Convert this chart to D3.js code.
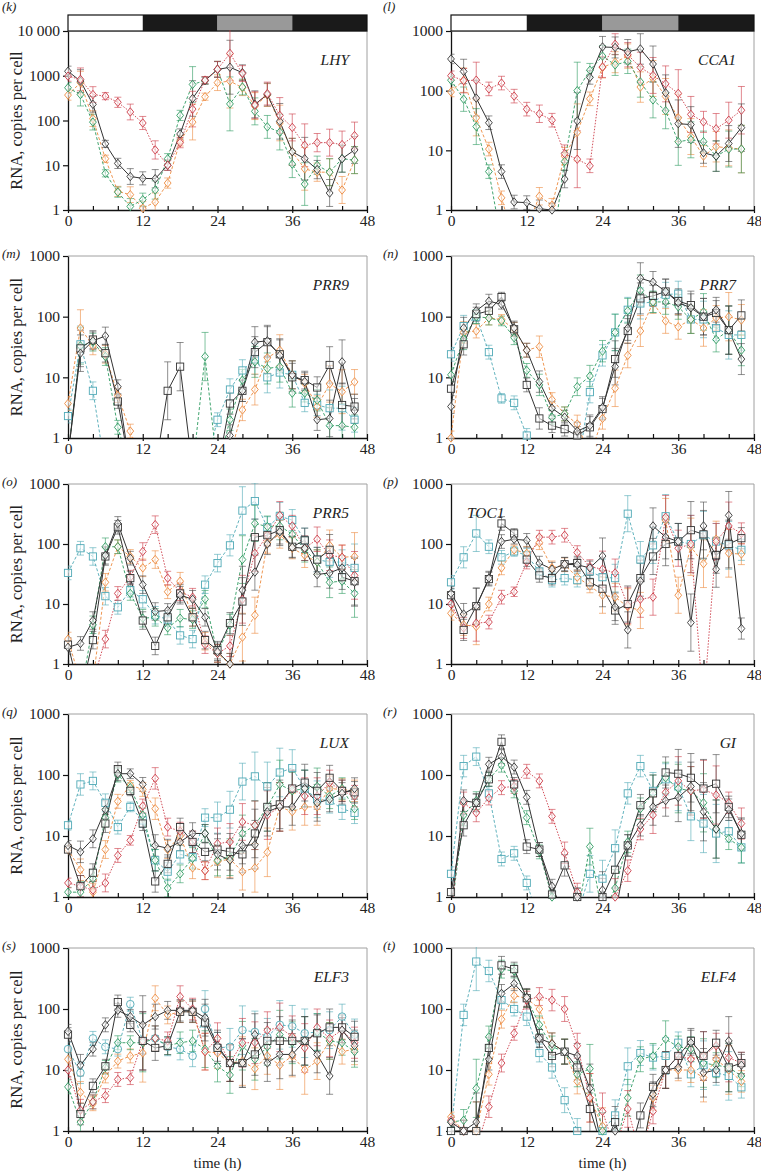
<!DOCTYPE html>
<html><head><meta charset="utf-8">
<script src="https://cdn.jsdelivr.net/npm/d3@7"></script>
<style>body{margin:0;background:#fff}svg text{font-family:"Liberation Serif","Times New Roman","DejaVu Serif",serif;fill:#222}</style>
</head><body><svg id="c" width="761" height="1171"></svg>
<script>
const times=[0,2,4,6,8,10,12,14,16,18,20,22,24,26,28,30,32,34,36,38,40,42,44,46];
const xMajorTicks=[0,12,24,36,48];
const xMinorTicks=[0,4,8,12,16,20,24,28,32,36,40,44,48];
const yTicks3=[1,10,100,1000];
const yTicks4=[1,10,100,1000,10000];
const lightPhases=[[0,12,"light"],[12,24,"dark"],[24,36,"subj"],[36,48,"dark"]];

// LHY (k)
const lhyBD=[1260,760,230,30,11,5.6,5.1,5,10,50,310,780,1380,1550,1170,230,380,96,20,14,8,2.4,14,22];
const lhyRD=[980,830,380,350,255,155,88,22,10,32,180,800,1400,3150,1120,220,400,130,70,28,32,32,29,46];
const lhyOD=[370,700,110,14,2.6,2.2,1.1,1.5,4,35,92,340,700,760,540,210,370,88,20,8.3,7,7,2.8,13];
const lhyGD=[540,380,92,6.6,2.5,1.2,1.7,2.8,14,130,640,780,1400,235,560,160,72,55,10.6,3.8,10,7,14,13];
const lhyErr=[1.3,1.8,1.5,1.2,1.3,1.5,1.4,1.6,1.3,1.3,2.5,1.2,1.5,4,1.5,2,1.8,2.5,2,3,1.6,2,2,2];
// CCA1 (l)
const ccaBD=[340,210,75,29,4.4,1.36,1.33,1.05,1.0,3.3,31,167,540,530,450,500,280,92,28,27,9.1,8,13,24];
const ccaRD=[178,147,150,107,134,81,49,41,32,8.8,7.1,5.5,250,600,400,245,180,130,90,40,30,23,32,47];
const ccaOD=[95,150,35,10.5,1.6,0.3,0.5,1.7,1.2,8,20,73,245,300,380,115,160,80,35,17,8,11.5,11,10.5];
const ccaGD=[150,72,25,4.4,0.3,null,null,null,0.2,6.5,100,220,380,270,310,140,70,46,14,15,14,8,10.5,10.5];
const ccaErr=[1.2,1.6,2,1.3,1.3,1.3,1.3,1.4,1.3,1.4,3,1.3,1.5,1.5,1.6,1.8,2,2,2.5,2,1.5,1.8,2,2.5];
// PRR9 (m)
const prr9BD=[0.5,25,40,48,7,0.3,null,null,null,null,null,null,0.3,1.1,6,38,40,23,11,8.5,2,2.1,18,2.8];
const prr9BS=[0.5,30,42,25,4,0.3,null,0.3,6,15,0.3,null,0.3,3.7,6,26,38,24,10,9,6.8,16,3.5,3.3];
const prr9OD=[3.7,65,33,24,5,1.3,0.3,null,null,null,null,null,null,0.5,2.9,6.3,21,28,11,8,3.3,7.8,5.8,8.4];
const prr9GD=[0.5,33,38,22,1.5,0.3,null,null,null,null,0.3,22,0.3,2,9,18,14,15,5.5,5.5,4.2,1.6,1.6,1.5];
const prr9TS=[2.3,35,6,0.3,null,null,null,null,null,null,null,0.3,2,6.3,13,20,10,12,11,3.8,3.5,3.1,3.1,2];
const prr9Err=[1.3,2,1.4,1.4,1.3,1.3,1,1,3,2.5,1,2.5,1.3,1.5,1.5,1.8,1.8,1.8,1.7,1.4,1.5,2,2.3,1.6];
// PRR7 (n)
const prr7BD=[3.3,65,125,180,160,65,28,8.5,3.1,2.2,1.3,1.6,3.2,15,65,430,370,260,170,140,100,130,60,20];
const prr7BS=[6.5,35,110,125,210,62,7.5,2.1,1.6,1.4,1.1,1.5,3,20,58,200,220,260,180,155,100,115,60,105];
const prr7OD=[1.0,55,58,95,90,62,28,32,4.3,2.5,1.7,0.5,2.1,6.6,23,58,170,85,68,90,65,95,100,88];
const prr7GD=[11,43,100,95,85,45,13,7.5,2.2,2.5,7,10.5,27,55,125,270,175,175,145,90,120,42,60,28];
const prr7TS=[24,70,100,26,4.5,3.8,1.1,0.3,null,null,0.3,5.7,23,55,130,165,175,230,240,90,90,65,50,50];
const prr7Err=[1.3,1.5,1.3,1.3,1.2,1.3,1.3,1.5,1.3,1.3,1.4,1.5,1.5,2,1.6,1.8,1.5,1.6,1.6,1.7,2,1.6,2.5,1.8];
// PRR5 (o)
const prr5BD=[1.9,2.2,5.3,65,220,58,21,7.5,7.8,14,12,6,1.6,1.0,17,34,100,160,88,85,31,33,40,23];
const prr5BS=[2.1,0.3,2.5,62,190,27,5.3,2.0,6,15,6,2.5,1.7,4.8,11,130,140,170,90,115,55,80,28,24];
const prr5RD=[0.4,0.3,0.5,2.6,15,28,75,210,27,16,13,2.1,1.5,2.0,12,70,140,300,200,85,120,65,60,30];
const prr5OD=[2.6,0.5,0.5,23,90,62,40,55,16,24,6,2.4,1.5,1.0,2.8,6.5,105,145,85,65,50,95,60,62];
const prr5GD=[0.3,0.3,4.5,90,90,15,5.8,6,4,5.8,5.5,12,1.5,4.5,55,220,195,200,145,80,50,23,24,15];
const prr5TS=[33,85,62,13.5,8.8,17,12,6.5,5.5,3.0,2.6,21,48,95,360,520,190,290,250,115,55,50,50,40];
const prr5Err=[1.3,1.3,1.4,1.4,1.3,1.3,1.4,1.4,1.3,1.4,1.4,1.4,1.4,1.5,2.5,2,1.5,1.7,1.5,1.6,1.6,1.8,1.6,2.5];
// TOC1 (p)
const toc1BD=[15,6.8,9.2,27,110,120,115,48,38,46,45,40,63,9,3.7,24,200,130,110,4.9,200,38,300,3.9];
const toc1BS=[14,3.7,9.2,26,220,150,55,30,27,46,48,23,18,7.8,10,27,62,100,110,170,145,65,100,125];
const toc1RD=[10,4,4.8,5,13,16,50,130,130,140,72,42,38,33,9.5,12,13,280,85,100,0.2,110,200,150];
const toc1OD=[7,4.5,4.2,10,40,80,70,105,40,45,28,20,14,13,9,7.8,null,250,14,90,47,120,70,68];
const toc1TS=[23,60,150,90,60,75,65,35,25,27,25,35,28,27,320,55,95,290,110,100,140,110,95,80];
const toc1Err=[1.3,1.5,2,1.3,1.3,1.2,1.3,1.3,1.3,1.3,1.3,1.3,2,1.7,2,2,2,2.3,2,3,2.5,2,2.5,1.5];
// LUX (q)
const luxBD=[7,5.5,9,27,105,105,70,7,6.3,8,11,11,5,4,7,7.2,25,30,30,60,35,40,50,60];
const luxBS=[6,1.5,2.5,16,125,55,16,1.8,3.5,14,8,5.5,6,5.5,5,11,30,33,60,75,55,90,55,52];
const luxRD=[1.7,1.5,1.3,1.7,4.8,8.5,31,88,14,12,8,2.7,7.5,8,17,15,22,30,60,45,45,75,55,45];
const luxOD=[6,2.8,1.2,6,37,68,58,28,6,10,3,2.7,3.8,4.2,2.6,3,5.4,30,25,30,30,60,58,55];
const luxGD=[1.2,1.2,2,20,100,62,22,4,1.4,2.4,4.3,11,4,4.5,11,15,30,70,55,60,65,45,60,28];
const luxTS=[15,70,80,35,14,30,18,4,2.6,5,4.5,20,20,27,78,95,65,110,130,60,40,38,28,24];
const luxErr=[1.2,1.5,1.4,1.4,1.3,1.2,1.3,1.5,1.4,1.4,1.5,1.4,1.8,2,2,2.5,2.5,2.5,2,2,2,1.6,1.5,1.5];
// GI (r)
const giBD=[0.6,38,35,150,200,135,43,6,1.5,0.5,1.0,0.5,1.3,0.5,7,15,30,38,43,65,25,13,27,11];
const giBS=[1.2,15,35,85,350,70,6.7,6,1.1,3.3,1.0,0.5,1.0,2.8,7,32,50,110,105,90,60,72,30,10.5];
const giRD=[0.5,35,24,42,62,65,115,80,21,5.3,1.2,0.5,0.5,1.0,2.7,13,22,52,80,55,58,47,35,16];
const giGD=[0.5,22,38,85,145,55,20,5.5,1.0,0.5,0.5,6.7,0.5,1.4,8,28,50,90,60,55,35,13,9,6.5];
const giTS=[2.4,140,200,50,4.2,5.2,1.7,0.4,null,null,0.5,2.4,2.0,6.3,50,140,55,85,65,21,16,11,12,6.5];
const giErr=[1.3,1.5,1.4,1.3,1.3,1.3,1.3,1.3,1.3,1.5,1.4,2,2,2,1.5,1.5,2,1.8,2.5,2.5,3,3,1.5,1.8];
// ELF3 (s)
const elf3BD=[43,12,22,55,95,75,55,75,95,95,95,72,25,13,13,38,13,18,18,30,18,8,45,25];
const elf3BS=[38,1.9,5.5,11.5,130,55,30,23,25,90,90,60,23,13,13,18,30,30,30,30,40,50,50,35];
const elf3RD=[10,2.2,3,3.8,7,7.5,30,33,30,160,100,20,33,13,28,28,45,50,35,23,50,33,45,28];
const elf3OD=[15,4.3,2.8,8,14,17,19,150,80,90,90,20,19,13,14,10.5,17,12,17,10,14,30,20,22];
const elf3GD=[5.3,1.4,3,11,28,28,28,33,25,28,30,22,11.5,8.3,25,15,24,38,28,30,42,30,28,20];
const elf3TC=[22,9,33,24,22,120,30,33,24,22,17,100,23,24,45,42,35,55,52,40,42,45,75,38];
const elf3Err=[1.3,1.5,1.3,1.3,1.3,1.3,3,1.6,1.4,1.5,1.5,2,1.8,2,2.5,2.2,2,2.5,2.2,2.5,2,2,1.6,1.8];
// ELF4 (t)
const elf4BD=[1.4,1.0,1.4,15,180,260,155,33,27,20,17,5,0.5,1.0,0.3,0.3,4,10,11,28,9,10,30,12];
const elf4BS=[1.0,1.0,1.0,23,520,450,150,33,17,20,11,2.3,0.5,1.4,0.3,1.8,5.3,10,17,30,17,28,11,13];
const elf4RD=[1.5,1.0,0.5,2.5,13,40,140,160,140,100,25,3.5,2.1,0.5,2.3,0.4,2.1,10,17,15,17,25,16,13];
const elf4OD=[1.7,1.0,1.0,8.5,68,165,150,100,27,20,6.5,3.5,1.2,0.5,null,0.3,3.5,10,10,10,7.5,15,10,6.5];
const elf4GD=[1.4,1.5,5,35,450,420,150,55,24,20,8.5,10.5,1.0,0.5,3.5,15,17,32,24,22,13,12,11,8];
const elf4TS=[1.0,80,600,420,140,100,75,19,11,3.2,1.0,0.5,1.0,1.8,11.5,19,16,17,28,8.5,12,9,8,5.2];
const elf4Err=[1.2,1.5,3,1.5,1.4,1.3,1.4,1.4,1.5,1.6,1.6,2.5,2,1.8,2,1.6,1.6,2,1.5,1.6,2.5,1.6,2.5,1.5];

const styles={
  ts:{color:"#4fa9b6",dash:"3,2",shape:"square"},
  tc:{color:"#4fa9b6",dash:"3,2",shape:"circle"},
  gd:{color:"#2b9a5f",dash:"3,2",shape:"diamond"},
  od:{color:"#ec8a3e",dash:"3,2",shape:"diamond"},
  rd:{color:"#cc3a46",dash:"1.5,1.5",shape:"diamond"},
  bs:{color:"#333333",dash:null,shape:"square"},
  bd:{color:"#333333",dash:null,shape:"diamond"}
};

const panels=[
 {tag:"k",gene:"LHY",col:0,row:0,yMax:10000,bar:true,err:lhyErr,series:[["od",lhyOD],["gd",lhyGD],["bd",lhyBD],["rd",lhyRD]]},
 {tag:"l",gene:"CCA1",col:1,row:0,yMax:1000,bar:true,err:ccaErr,series:[["od",ccaOD],["gd",ccaGD],["rd",ccaRD],["bd",ccaBD]]},
 {tag:"m",gene:"PRR9",col:0,row:1,yMax:1000,err:prr9Err,series:[["ts",prr9TS],["od",prr9OD],["gd",prr9GD],["bs",prr9BS],["bd",prr9BD]]},
 {tag:"n",gene:"PRR7",col:1,row:1,yMax:1000,err:prr7Err,series:[["ts",prr7TS],["od",prr7OD],["gd",prr7GD],["bs",prr7BS],["bd",prr7BD]]},
 {tag:"o",gene:"PRR5",col:0,row:2,yMax:1000,err:prr5Err,series:[["ts",prr5TS],["od",prr5OD],["gd",prr5GD],["rd",prr5RD],["bs",prr5BS],["bd",prr5BD]]},
 {tag:"p",gene:"TOC1",col:1,row:2,yMax:1000,err:toc1Err,geneLeft:true,series:[["ts",toc1TS],["od",toc1OD],["rd",toc1RD],["bs",toc1BS],["bd",toc1BD]]},
 {tag:"q",gene:"LUX",col:0,row:3,yMax:1000,err:luxErr,series:[["ts",luxTS],["od",luxOD],["gd",luxGD],["rd",luxRD],["bs",luxBS],["bd",luxBD]]},
 {tag:"r",gene:"GI",col:1,row:3,yMax:1000,err:giErr,series:[["ts",giTS],["gd",giGD],["rd",giRD],["bs",giBS],["bd",giBD]]},
 {tag:"s",gene:"ELF3",col:0,row:4,yMax:1000,err:elf3Err,xlabel:true,series:[["tc",elf3TC],["od",elf3OD],["gd",elf3GD],["rd",elf3RD],["bs",elf3BS],["bd",elf3BD]]},
 {tag:"t",gene:"ELF4",col:1,row:4,yMax:1000,err:elf4Err,xlabel:true,series:[["ts",elf4TS],["od",elf4OD],["gd",elf4GD],["rd",elf4RD],["bs",elf4BS],["bd",elf4BD]]}
];

const colX=[[68,367],[451,754]];
const rowY=[[31,210],[256,438],[484,664],[714,897],[948,1131]];
const svg=d3.select("#c");
const defs=svg.append("defs");

function marker(g,shape,cx,cy,color){
  if(shape==="diamond"){
    g.append("path").attr("d",`M${cx},${cy-4.2}L${cx+3.4},${cy}L${cx},${cy+4.2}L${cx-3.4},${cy}Z`)
     .attr("fill","#fff").attr("fill-opacity",0.55).attr("stroke",color).attr("stroke-width",0.9);
  } else if(shape==="square"){
    g.append("rect").attr("x",cx-3.6).attr("y",cy-3.6).attr("width",7.2).attr("height",7.2)
     .attr("fill","#fff").attr("fill-opacity",0.55).attr("stroke",color).attr("stroke-width",0.9);
  } else {
    g.append("circle").attr("cx",cx).attr("cy",cy).attr("r",3.8)
     .attr("fill","#fff").attr("fill-opacity",0.55).attr("stroke",color).attr("stroke-width",0.9);
  }
}

panels.forEach(p=>{
  const [x0,x1]=colX[p.col], [y0,y1]=rowY[p.row];
  const x=d3.scaleLinear().domain([0,48]).range([x0,x1]);
  const y=d3.scaleLog().domain([1,p.yMax]).range([y1,y0]);
  const cid="clip-"+p.tag;
  defs.append("clipPath").attr("id",cid).append("rect")
    .attr("x",x0).attr("y",y0-1).attr("width",x1-x0+1).attr("height",y1-y0+1);
  const g=svg.append("g");

  // frame (top & right)
  g.append("path").attr("d",`M${x0},${y0}H${x1}V${y1}`).attr("fill","none")
    .attr("stroke","#a0a0a0").attr("stroke-width",1);

  // light bar
  if(p.bar){
    const bg=g.append("g");
    lightPhases.forEach(([a,b,k])=>{
      bg.append("rect").attr("x",x(a)).attr("y",y0-16).attr("width",x(b)-x(a)).attr("height",16)
        .attr("fill",k==="light"?"#fff":(k==="dark"?"#1a1a1a":"#999"));
    });
    bg.append("rect").attr("x",x(0)).attr("y",y0-16).attr("width",x(48)-x(0)).attr("height",16)
      .attr("fill","none").attr("stroke","#111").attr("stroke-width",1.2);
  }

  // axes
  const yAx=d3.axisLeft(y).tickValues(p.yMax===10000?yTicks4:yTicks3)
    .tickFormat(d=>d===10000?"10 000":String(d)).tickSizeInner(5).tickSizeOuter(0).tickPadding(3);
  const ya=g.append("g").attr("transform",`translate(${x0},0)`).call(yAx);
  ya.selectAll("text").style("font-size","15.5px").attr("fill","#222");
  ya.select(".domain").attr("stroke","#111").attr("stroke-width",1.3);
  ya.selectAll(".tick line").attr("stroke","#111").attr("stroke-width",1.2);

  const xMin=d3.axisBottom(x).tickValues(xMinorTicks).tickFormat("").tickSizeInner(-4).tickSizeOuter(0);
  const xm=g.append("g").attr("transform",`translate(0,${y1})`).call(xMin);
  xm.select(".domain").attr("stroke","#111").attr("stroke-width",1.3);
  xm.selectAll(".tick line").attr("stroke","#111").attr("stroke-width",1.2);
  const xMaj=d3.axisBottom(x).tickValues(xMajorTicks).tickSizeInner(3).tickSizeOuter(0).tickPadding(2);
  const xM=g.append("g").attr("transform",`translate(0,${y1})`).call(xMaj);
  xM.select(".domain").remove();
  xM.selectAll(".tick line").attr("stroke","#111").attr("stroke-width",1.2);
  xM.selectAll("text").style("font-size","15.5px").attr("fill","#222");

  // series
  const dataG=g.append("g").attr("clip-path",`url(#${cid})`);
  const markG=g.append("g");
  p.series.forEach(([key,vals])=>{
    const st=styles[key];
    const pts=times.map((t,i)=>({t,v:vals[i],e:p.err[i]}));
    const line=d3.line().defined(d=>d.v!=null).x(d=>x(d.t)).y(d=>y(d.v));
    dataG.append("path").datum(pts).attr("d",line).attr("fill","none")
      .attr("stroke",st.color).attr("stroke-width",key[0]==="b"?1:0.9)
      .attr("stroke-dasharray",st.dash);
    pts.filter(d=>d.v!=null&&d.v>=1&&d.e>1).forEach(d=>{
      const cx=x(d.t), ya1=y(d.v*d.e), ya2=y(d.v/d.e);
      const ec=key[0]==="b"?"#444":st.color;
      dataG.append("path").attr("d",`M${cx},${ya1}V${ya2}M${cx-3.5},${ya1}H${cx+3.5}M${cx-3.5},${ya2}H${cx+3.5}`)
        .attr("stroke",ec).attr("stroke-opacity",0.75).attr("stroke-width",0.8).attr("fill","none");
    });
    pts.filter(d=>d.v!=null&&d.v>=0.95&&d.v<=p.yMax).forEach(d=>marker(markG,st.shape,x(d.t),y(d.v),st.color));
  });

  // gene label
  g.append("text").attr("x",p.geneLeft?x0+16:x1-18).attr("y",y0+34)
    .attr("text-anchor",p.geneLeft?"start":"end").style("font-style","italic").style("font-size","15.5px").text(p.gene);
  // panel tag
  g.append("text").attr("x",p.col===0?2:383).attr("y",p.row===0?11:y0+2)
    .style("font-style","italic").style("font-size","13px").text("("+p.tag+")");
  // y label
  if(p.col===0){
    g.append("text").attr("transform",`translate(16,${(y0+y1)/2}) rotate(-90)`)
      .attr("text-anchor","middle").attr("dominant-baseline","central").style("font-size","16.5px").text("RNA, copies per cell");
  }
  if(p.xlabel){
    g.append("text").attr("x",(x0+x1)/2).attr("y",1168).attr("text-anchor","middle").style("font-size","15px").text("time (h)");
  }
});
</script></body></html>
